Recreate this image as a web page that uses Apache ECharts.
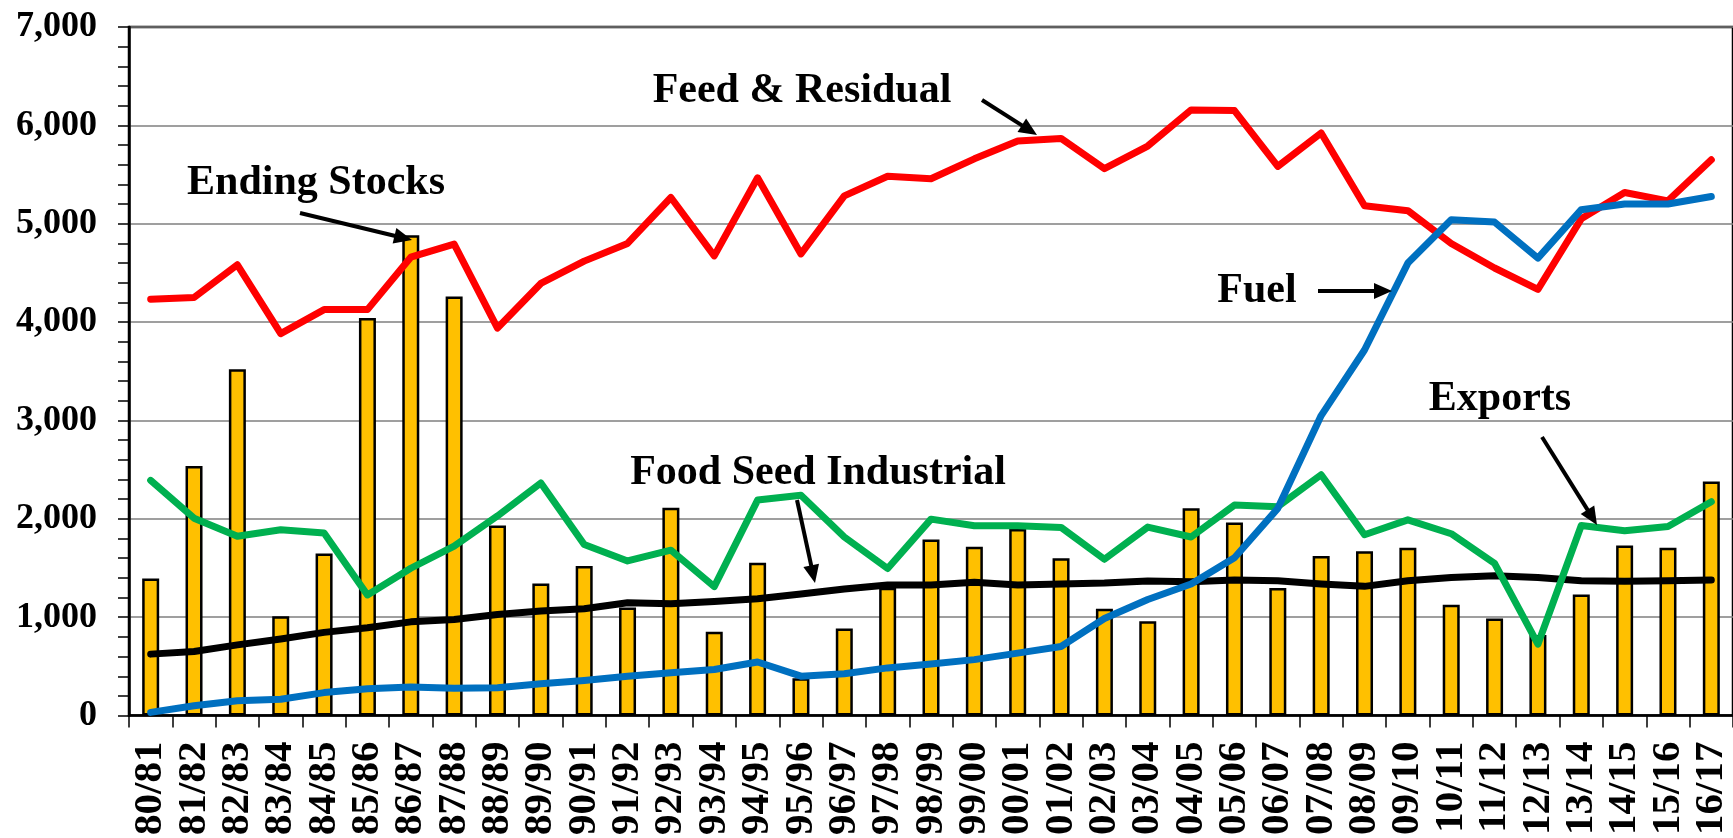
<!DOCTYPE html>
<html>
<head>
<meta charset="utf-8">
<script src="https://cdn.jsdelivr.net/npm/echarts@6/dist/echarts.min.js"></script>
<style>
  html, body { margin: 0; padding: 0; background: #fff; }
  #chart { width: 1733px; height: 838px; }
</style>
</head>
<body>
<div id="chart"></div>
<script>
const categories = ['80/81', '81/82', '82/83', '83/84', '84/85', '85/86', '86/87', '87/88', '88/89', '89/90',
  '90/91', '91/92', '92/93', '93/94', '94/95', '95/96', '96/97', '97/98', '98/99', '99/00',
  '00/01', '01/02', '02/03', '03/04', '04/05', '05/06', '06/07', '07/08', '08/09', '09/10',
  '10/11', '11/12', '12/13', '13/14', '14/15', '15/16', '16/17']

const endingStocks = [1395, 2538, 3520, 1010, 1649, 4043, 4883, 4260, 1933, 1344,
  1522, 1100, 2114, 853, 1555, 380, 886, 1300, 1789, 1716,
  1896, 1599, 1087, 960, 2107, 1963, 1298, 1622, 1672, 1706,
  1127, 987, 819, 1231, 1729, 1706, 2381]

const feedResidual = [4233, 4250, 4583, 3883, 4127, 4127, 4660, 4793, 3940, 4393,
  4620, 4800, 5267, 4673, 5467, 4693, 5283, 5483, 5457, 5660,
  5840, 5867, 5560, 5790, 6157, 6150, 5583, 5923, 5183, 5133,
  4800, 4550, 4333, 5050, 5317, 5233, 5650]

const exportsData = [2391, 2007, 1823, 1890, 1856, 1227, 1498, 1722, 2030, 2365,
  1739, 1572, 1682, 1311, 2191, 2241, 1816, 1495, 1997, 1930,
  1930, 1913, 1589, 1916, 1816, 2140, 2124, 2448, 1839, 1990,
  1849, 1548, 726, 1933, 1880, 1923, 2174]

const foodSeedIndustrial = [625, 652, 719, 779, 846, 893, 953, 977, 1027, 1064,
  1087, 1147, 1137, 1161, 1187, 1237, 1288, 1328, 1328, 1355,
  1328, 1338, 1348, 1368, 1361, 1378, 1371, 1338, 1314, 1371,
  1405, 1421, 1405, 1371, 1365, 1371, 1378]

const fuel = [33, 100, 151, 167, 234, 274, 291, 278, 284, 324,
  358, 401, 435, 468, 545, 401, 425, 485, 525, 569,
  635, 702, 987, 1181, 1338, 1605, 2107, 3050, 3717, 4600,
  5040, 5017, 4650, 5143, 5200, 5200, 5277]

const FONT = "'Liberation Serif', 'Times New Roman', serif"

const chart = echarts.init(document.getElementById('chart'))

// arrow = shaft + filled head
const arrow = (x1, y1, x2, y2) => {
  const dx = x2 - x1, dy = y2 - y1
  const len = Math.sqrt(dx * dx + dy * dy)
  const ux = dx / len, uy = dy / len
  const head = 18, half = 8
  const bx = x2 - ux * head, by = y2 - uy * head
  return [
    {
      type: 'line', silent: true, z: 100,
      shape: { x1, y1, x2: bx + ux * 2, y2: by + uy * 2 },
      style: { stroke: '#000', lineWidth: 4 }
    },
    {
      type: 'polygon', silent: true, z: 100,
      shape: { points: [[x2, y2], [bx - uy * half, by + ux * half], [bx + uy * half, by - ux * half]] },
      style: { fill: '#000' }
    }
  ]
}

const label = (text, x, y) => ({
  type: 'text', silent: true, z: 100,
  style: {
    text, x, y,
    font: 'bold 42px ' + FONT,
    fill: '#000',
    textAlign: 'center',
    textVerticalAlign: 'middle'
  }
})

const lineSeries = (name, data, color, z) => ({
  name, type: 'line', data, z,
  symbol: 'none',
  lineStyle: { color, width: 7, cap: 'round', join: 'round' },
  itemStyle: { color }
})

const option = {
  animation: false,
  grid: {
    left: 129, top: 27, width: 1609.5, height: 697,
    show: true, borderColor: '#000', borderWidth: 2.5
  },
  xAxis: {
    type: 'category',
    data: categories,
    axisLine: { lineStyle: { color: '#000', width: 2.5 } },
    axisTick: { show: true, length: 12, lineStyle: { color: '#000', width: 1.5 } },
    axisLabel: {
      rotate: 90, interval: 0, margin: 26,
      fontFamily: FONT, fontWeight: 'bold', fontSize: 41, color: '#000'
    }
  },
  yAxis: {
    type: 'value',
    min: 0, max: 7000, interval: 1000,
    axisLine: { show: true, lineStyle: { color: '#000', width: 2.5 } },
    axisTick: { show: true, length: 11, lineStyle: { color: '#000', width: 1.5 } },
    minorTick: { show: true, splitNumber: 5, length: 11, lineStyle: { color: '#000', width: 1.5 } },
    splitLine: { lineStyle: { color: '#7f7f7f', width: 1.5 } },
    axisLabel: {
      margin: 32,
      fontFamily: FONT, fontWeight: 'bold', fontSize: 36, color: '#000',
      formatter: v => v.toLocaleString('en-US')
    }
  },
  series: [
    {
      name: 'Ending Stocks', type: 'bar', data: endingStocks, z: 1,
      barWidth: 17,
      itemStyle: { color: '#ffc000', borderColor: '#000', borderWidth: 2.5 }
    },
    lineSeries('Food Seed Industrial', foodSeedIndustrial, '#000000', 2),
    lineSeries('Exports', exportsData, '#00b050', 3),
    lineSeries('Feed & Residual', feedResidual, '#ff0000', 4),
    lineSeries('Fuel', fuel, '#0070c0', 5)
  ],
  graphic: [
    label('Ending Stocks', 316, 183),
    ...arrow(300, 213, 412, 240),
    label('Feed & Residual', 802, 91),
    ...arrow(982, 100, 1037, 135),
    label('Food Seed Industrial', 818, 473),
    ...arrow(797, 500, 815, 583),
    label('Fuel', 1257, 291),
    ...arrow(1318, 291, 1392, 291),
    label('Exports', 1500, 399),
    ...arrow(1542, 437, 1597, 525)
  ]
}

chart.setOption(option)
</script>
</body>
</html>
